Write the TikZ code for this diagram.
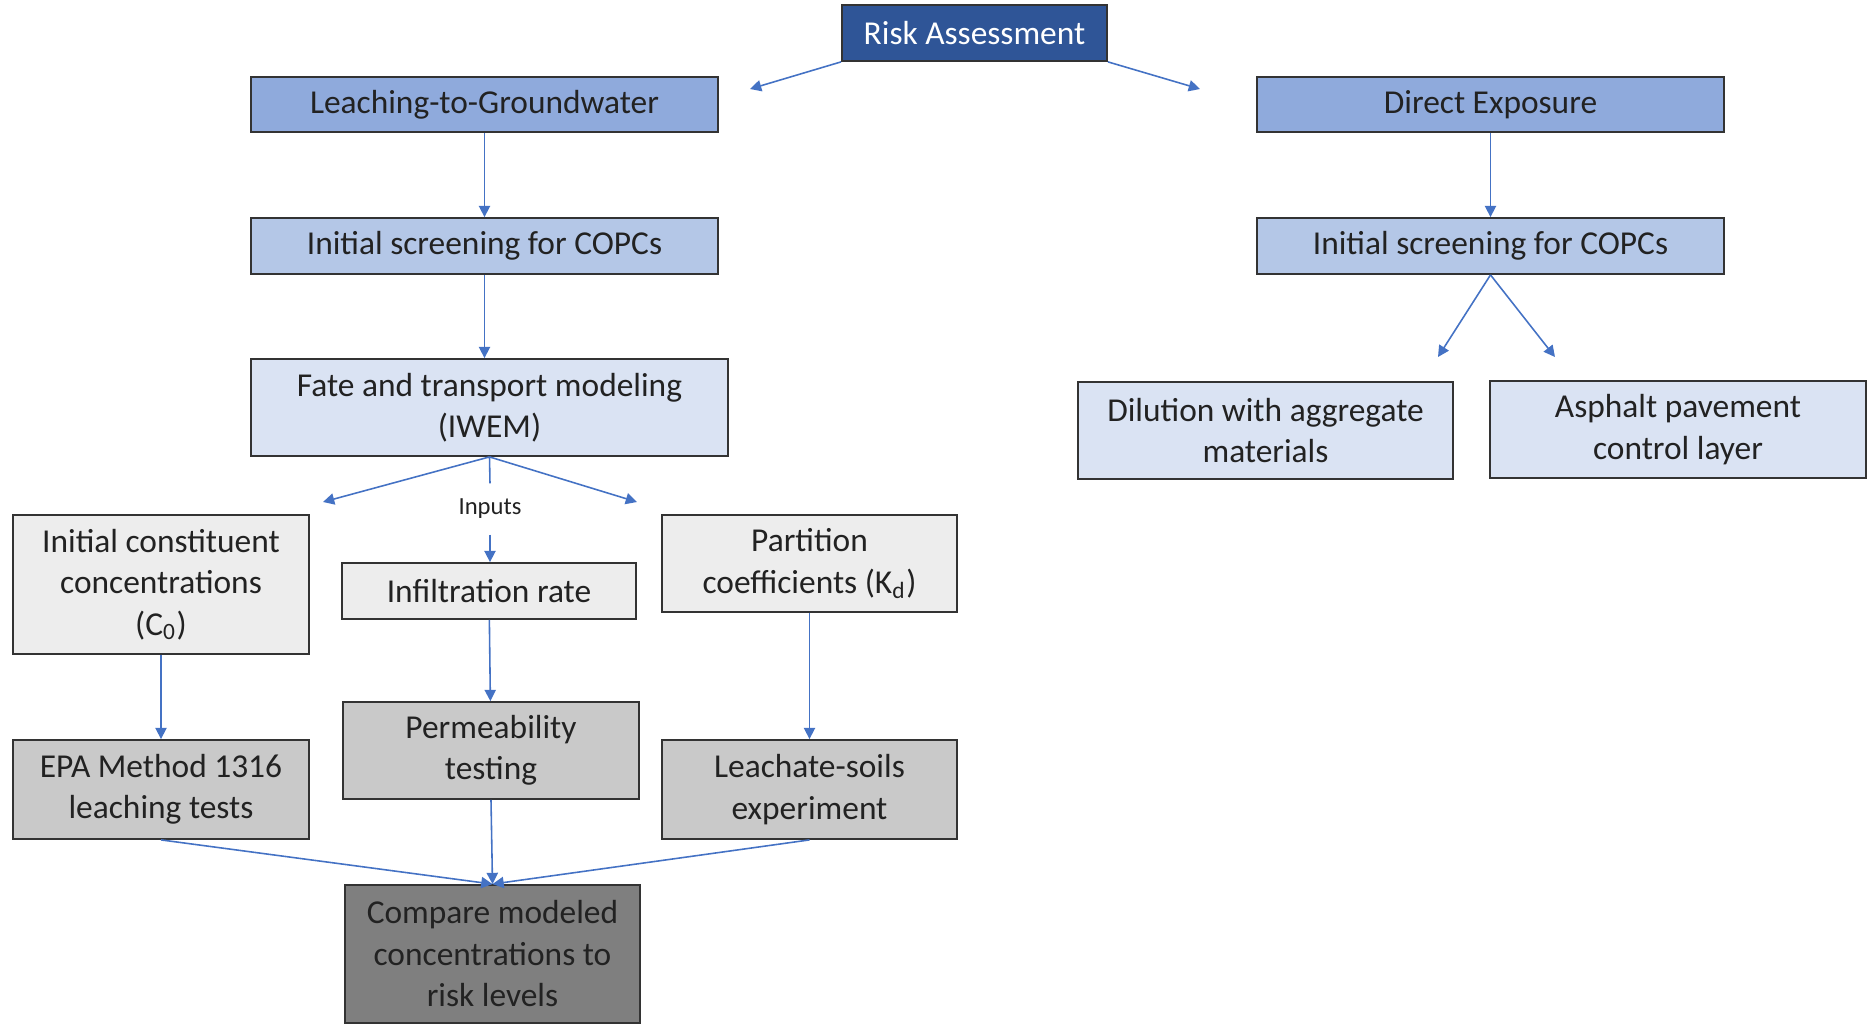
\documentclass[tikz,border=0pt]{standalone}
\usepackage{fontspec}
\setmainfont{Carlito}
\usetikzlibrary{arrows.meta}

\definecolor{riskblue}{HTML}{2F5597}
\definecolor{midblue}{HTML}{8FAADC}
\definecolor{lightblue}{HTML}{B4C7E7}
\definecolor{paleblue}{HTML}{DAE3F3}
\definecolor{palegray}{HTML}{EDEDED}
\definecolor{midgray}{HTML}{C9C9C9}
\definecolor{darkgray}{HTML}{7F7F7F}
\definecolor{arrowblue}{HTML}{4472C4}
\definecolor{textblack}{HTML}{222222}

\tikzset{
  box/.style={draw=black!80, line width=0.5pt, align=center, text=textblack,
    inner sep=0pt, font=\fontsize{9.5}{11.8}\selectfont},
  flow/.style={draw=arrowblue, line width=0.45pt, -{Triangle[width=3.2pt,length=3.2pt]}},
  plainflow/.style={draw=arrowblue, line width=0.45pt}
}

\begin{document}
\begin{tikzpicture}[x=0.01cm,y=-0.01cm]
\useasboundingbox (0,0) rectangle (1868,1024);

\node[box, fill=riskblue, text=white, minimum width=2.65cm, minimum height=0.56cm] (risk) at (974.5,33) {Risk Assessment};

\node[box, fill=midblue, minimum width=4.67cm, minimum height=0.55cm] (leach) at (484.5,104.5) {Leaching-to-Groundwater};
\node[box, fill=midblue, minimum width=4.67cm, minimum height=0.55cm] (direct) at (1490.5,104.5) {Direct Exposure};

\node[box, fill=lightblue, minimum width=4.67cm, minimum height=0.56cm] (screenL) at (484.5,246) {Initial screening for COPCs};
\node[box, fill=lightblue, minimum width=4.67cm, minimum height=0.56cm] (screenR) at (1490.5,246) {Initial screening for COPCs};

\node[box, fill=paleblue, minimum width=4.77cm, minimum height=0.97cm] (fate) at (489.5,407.5) {Fate and transport modeling\\(IWEM)};
\node[box, fill=paleblue, minimum width=3.75cm, minimum height=0.97cm] (dilution) at (1265.5,430.5) {Dilution with aggregate\\materials};
\node[box, fill=paleblue, minimum width=3.76cm, minimum height=0.97cm] (asphalt) at (1678,429.5) {Asphalt pavement\\control layer};

\node[font=\fontsize{7}{8}\selectfont, text=textblack, inner sep=0pt, minimum height=0.5cm] (inputs) at (490,509) {Inputs};

\node[box, fill=palegray, minimum width=2.96cm, minimum height=1.39cm] (initc) at (161,584.5) {Initial constituent\\concentrations\\(C\textsubscript{0})};
\node[box, fill=palegray, minimum width=2.94cm, minimum height=0.56cm] (infil) at (489,591) {Infiltration rate};
\node[box, fill=palegray, minimum width=2.95cm, minimum height=0.97cm] (partition) at (809.5,563.5) {Partition\\coefficients (K\textsubscript{d})};

\node[box, fill=midgray, minimum width=2.96cm, minimum height=0.99cm] (epa) at (161,789.5) {EPA Method 1316\\leaching tests};
\node[box, fill=midgray, minimum width=2.96cm, minimum height=0.97cm] (perm) at (491,750.5) {Permeability\\testing};
\node[box, fill=midgray, minimum width=2.95cm, minimum height=0.99cm] (leachate) at (809.5,789.5) {Leachate-soils\\experiment};

\node[box, fill=darkgray, minimum width=2.95cm, minimum height=1.38cm] (compare) at (492.5,954) {Compare modeled\\concentrations to\\risk levels};

\coordinate (riskL) at (750,89);
\coordinate (riskR) at (1200,89);
\coordinate (fateL) at (323,502);
\coordinate (fateR) at (637,502);
\coordinate (screenRL) at (1438,357);
\coordinate (screenRR) at (1555,357);

\draw[flow] (risk.south west) -- (riskL);
\draw[flow] (risk.south east) -- (riskR);
\draw[flow] (leach) -- (screenL);
\draw[flow] (screenL) -- (fate.north -| screenL);
\draw[flow] (direct) -- (screenR);
\draw[flow] (screenR.south) -- (screenRL);
\draw[flow] (screenR.south) -- (screenRR);
\draw[flow] (fate.south) -- (fateL);
\draw[flow] (fate.south) -- (fateR);
\draw[plainflow] (fate.south) -- (inputs.north);
\draw[flow] (inputs.south) -- (infil.north -| inputs.south);
\draw[flow] (initc) -- (epa);
\draw[flow] (infil) -- (perm);
\draw[flow] (partition) -- (leachate);
\draw[flow] (epa.south) -- (compare.north);
\draw[flow] (perm.south) -- (compare.north);
\draw[flow] (leachate.south) -- (compare.north);
\end{tikzpicture}
\end{document}
